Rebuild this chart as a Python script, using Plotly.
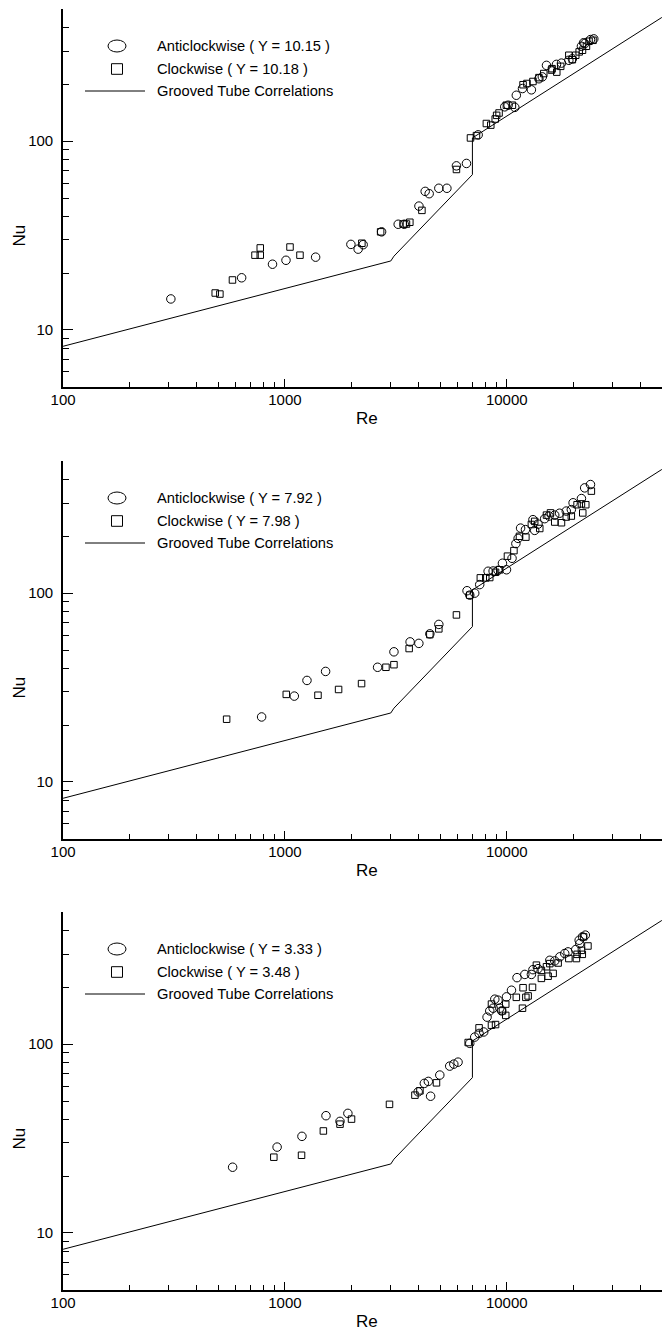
import math
import plotly.graph_objects as go

# ---------------- data ----------------
re_corr = [100, 3000, 3100, 7000, 7000, 50000]
nu_corr = [8.2, 23.2, 24.6, 66.5, 104, 452]

re_a1 = [306, 638, 879, 1011, 1375, 1983, 2138, 2252, 2727, 3240, 3450, 4018, 4287, 4468, 4940, 5370, 5930, 6580,
         7430, 9790, 10140, 10870, 11040, 11770, 12910, 13960, 14460, 15100, 16750, 17640, 19040, 19750, 21700,
         22200, 22500, 23840, 24670]
nu_a1 = [14.6, 18.9, 22.3, 23.4, 24.3, 28.4, 26.8, 28.3, 33.1, 36.3, 36.3, 45.3, 54.2, 52.7, 56.3, 56.3, 74.0, 76.2,
         108, 152, 155, 151, 175, 190, 187, 214, 219, 252, 255, 259, 268, 273, 318, 332, 329, 345, 348]
re_c1 = [485, 509, 580, 733, 774, 774, 1054, 1169, 2222, 2700, 3410, 3530, 3656, 4144, 5930, 6860, 7300, 8090, 8470,
         8870, 9000, 9230, 9960, 10600, 11840, 12330, 13120, 13960, 14680, 15900, 16000, 16800, 17500, 19040, 19750,
         20460, 21200, 21940, 22860, 23480, 24470]
nu_c1 = [15.7, 15.5, 18.4, 24.9, 24.9, 27.2, 27.5, 24.9, 28.8, 33.1, 36.4, 36.4, 37.2, 43.0, 70.8, 104, 107, 124,
         121.6, 131, 137, 141, 155, 155, 199, 202, 207, 217, 228, 238, 242, 232, 249, 285, 270, 285, 297, 303, 318,
         338, 342]

re_a2 = [785, 1102, 1257, 1525, 2616, 3100, 3666, 4015, 4500, 4940, 6620, 7170, 6810, 7550, 8240, 8680, 9130, 9970,
         9560, 10560, 10990, 11250, 11540, 12140, 13120, 13360, 13830, 14820, 15500, 16450, 17300, 18540, 19540,
         19900, 21700, 22440, 23840]
nu_a2 = [22.1, 28.5, 34.5, 38.5, 40.5, 48.9, 55.2, 54.2, 60.9, 68.3, 103, 100, 97.6, 111, 130.6, 131, 132, 133, 144,
         153, 183, 195, 221, 217, 245, 215, 232, 248, 256, 259, 265, 272, 277, 301, 317, 361, 376]
re_c2 = [546, 1014, 1409, 1745, 2215, 2853, 3100, 3630, 4500, 4940, 5930, 6810, 7600, 8040, 8380, 8900, 9300, 10070,
         10770, 11410, 12190, 12910, 13360, 14080, 15100, 15740, 16450, 17640, 18540, 19540, 20740, 21700, 22000,
         22700, 24060]
nu_c2 = [21.5, 29.1, 28.8, 30.9, 33.2, 40.5, 41.8, 50.9, 60.3, 64.7, 76.7, 97.6, 120.5, 120.5, 121, 129, 133, 157,
         168, 200, 198, 231, 240, 220, 259, 266, 238, 236, 253, 256, 294, 297, 266, 294, 347]

re_a3 = [581, 922, 1193, 1531, 1771, 1922, 3986, 4250, 4430, 4535, 4990, 5530, 5770, 6030, 6810, 7170, 7500, 7870,
         8150, 8380, 8680, 8830, 9130, 9300, 9480, 9970, 10500, 11120, 12060, 12910, 13120, 13830, 15630, 16450,
         17340, 18250, 18880, 20460, 21200, 21330, 21940, 22600]
nu_a3 = [22.3, 28.5, 32.5, 41.8, 39.0, 43.0, 55.9, 62.0, 63.5, 53.0, 68.6, 76.5, 78.4, 80.3, 101, 109, 114, 116, 139,
         150, 155, 173, 171, 155, 150, 178, 193, 225, 234, 234, 248, 251, 278, 276, 290, 302, 308, 317, 355, 341,
         370, 378]
re_c3 = [891, 1188, 1490, 1771, 1996, 2960, 3855, 4060, 4820, 6700, 7500, 8530, 8900, 8530, 9560, 9890, 9890, 11040,
         11770, 11840, 12190, 12480, 13060, 13600, 14320, 14320, 15100, 15630, 16180, 15360, 17040, 19040, 20600,
         20750, 21700, 21900, 22200, 23220]
nu_c3 = [25.2, 25.8, 34.7, 37.7, 40.1, 48.0, 53.7, 56.6, 62.4, 102, 122, 126, 127, 163, 150, 142, 163, 177, 155, 199,
         177, 180, 200, 262, 246, 223, 257, 267, 237, 229, 269, 284, 284, 299, 314, 299, 370, 331]

legend_a = ["Anticlockwise ( Y = 10.15 )", "Anticlockwise ( Y = 7.92 )", "Anticlockwise ( Y = 3.33 )"]
legend_c = ["Clockwise ( Y = 10.18 )", "Clockwise ( Y = 7.98 )", "Clockwise ( Y = 3.48 )"]
legend_l = "Grooved Tube Correlations"

x_tickvals = [100, 1000, 10000]
x_ticktext = ["100", "1000", "10000"]
y_tickvals = [10, 100]
y_ticktext = ["10", "100"]
x_minor = [m * d for d in (100, 1000, 10000) for m in range(2, 10) if m * d <= 50000]
y_minor = [m * d for d in (1, 10, 100) for m in range(2, 10) if 5 <= m * d <= 500]

x_label = "Re"
y_label = "Nu"

# ---------------- layout geometry ----------------
# the page body has an 8px margin; the figure is shrunk and shifted to compensate
O = 8
W, H = 672 - O, 1333 - O
ML, MR, MT, MB = 63 - O, 10, 9 - O, 43
PW = W - ML - MR
PH = H - MT - MB
plot_tops = [9, 461, 912]   # in page pixels
plot_h = 378


def px_x(px):
    return (px - O - ML) / PW


def px_y(py):
    return (H - MB - (py - O)) / PH


def clamp(v):
    return min(1.0, max(0.0, v))


FONT = "Liberation Sans, Arial, sans-serif"
fig = go.Figure()

series = [(re_a1, nu_a1, re_c1, nu_c1), (re_a2, nu_a2, re_c2, nu_c2), (re_a3, nu_a3, re_c3, nu_c3)]

shapes = []
annotations = []
for i, (ra, na, rc, nc) in enumerate(series):
    k = "" if i == 0 else str(i + 1)
    xa, ya = "x" + k, "y" + k
    fig.add_trace(go.Scatter(x=re_corr, y=nu_corr, mode="lines", line=dict(color="black", width=1),
                             xaxis=xa, yaxis=ya, showlegend=False, name=legend_l))
    fig.add_trace(go.Scatter(x=rc, y=nc, mode="markers", name=legend_c[i],
                             marker=dict(symbol="square-open", size=6.5, color="black", line=dict(width=1)),
                             xaxis=xa, yaxis=ya, showlegend=False))
    fig.add_trace(go.Scatter(x=ra, y=na, mode="markers", name=legend_a[i],
                             marker=dict(symbol="circle-open", size=8.5, color="black", line=dict(width=1)),
                             xaxis=xa, yaxis=ya, showlegend=False))

    top = plot_tops[i]
    bot = top + plot_h
    axis_common = dict(showline=True, linecolor="black", linewidth=1.6, ticks="inside", tickcolor="black",
                       tickwidth=1.3, showgrid=False, zeroline=False, mirror=False,
                       tickfont=dict(family=FONT, size=15, color="black"))
    fig.update_layout(**{
        "xaxis" + k: dict(type="log", range=[math.log10(99.9), math.log10(50080)], domain=[0, 1], anchor=ya,
                          tickmode="array", tickvals=x_tickvals, ticktext=x_ticktext, ticklen=8,
                          ticklabelstandoff=-2,
                          minor=dict(ticks="inside", ticklen=5, tickwidth=1.3, tickcolor="black",
                                     tickmode="array", tickvals=x_minor, showgrid=False),
                          **axis_common),
        "yaxis" + k: dict(type="log", range=[math.log10(4.99), math.log10(501)],
                          domain=[clamp(px_y(bot)), clamp(px_y(top))], anchor=xa,
                          tickmode="array", tickvals=y_tickvals, ticktext=y_ticktext, ticklen=10,
                          ticklabelstandoff=5,
                          minor=dict(ticks="inside", ticklen=6, tickwidth=1.3, tickcolor="black",
                                     tickmode="array", tickvals=y_minor, showgrid=False),
                          **axis_common),
    })

    # axis titles
    annotations.append(dict(text=y_label, xref="paper", yref=ya, x=px_x(20), y=1.5, textangle=-90,
                            showarrow=False, xanchor="center", yanchor="middle",
                            font=dict(family=FONT, size=17, color="black")))
    annotations.append(dict(text=x_label, xref="paper", yref="paper", x=px_x(367), y=px_y(bot + 31),
                            showarrow=False, xanchor="center", yanchor="middle",
                            font=dict(family=FONT, size=17, color="black")))

    # legend (drawn as text + symbols)
    r1, r2, r3 = top + 37, top + 60, top + 82
    cx = 117
    shapes.append(dict(type="circle", xref="paper", yref="paper", x0=px_x(cx - 9), x1=px_x(cx + 9),
                       y0=px_y(r1 + 6), y1=px_y(r1 - 6), line=dict(color="black", width=1)))
    shapes.append(dict(type="rect", xref="paper", yref="paper", x0=px_x(cx - 5.5), x1=px_x(cx + 5.5),
                       y0=px_y(r2 + 5.3), y1=px_y(r2 - 5.3), line=dict(color="black", width=1)))
    shapes.append(dict(type="line", xref="paper", yref="paper", x0=px_x(85), x1=px_x(145),
                       y0=px_y(r3), y1=px_y(r3), line=dict(color="black", width=1)))
    for txt, r in ((legend_a[i], r1), (legend_c[i], r2), (legend_l, r3)):
        annotations.append(dict(text=txt, xref="paper", yref="paper", x=px_x(155), y=px_y(r),
                                showarrow=False, xanchor="left", yanchor="middle",
                                font=dict(family=FONT, size=14.7, color="black")))

fig.update_layout(width=W, height=H, autosize=False,
                  margin=dict(l=ML, r=MR, t=MT, b=MB, pad=0),
                  paper_bgcolor="white", plot_bgcolor="white",
                  shapes=shapes, annotations=annotations, showlegend=False,
                  font=dict(family=FONT, color="black"))

fig.write_html("out.html")
